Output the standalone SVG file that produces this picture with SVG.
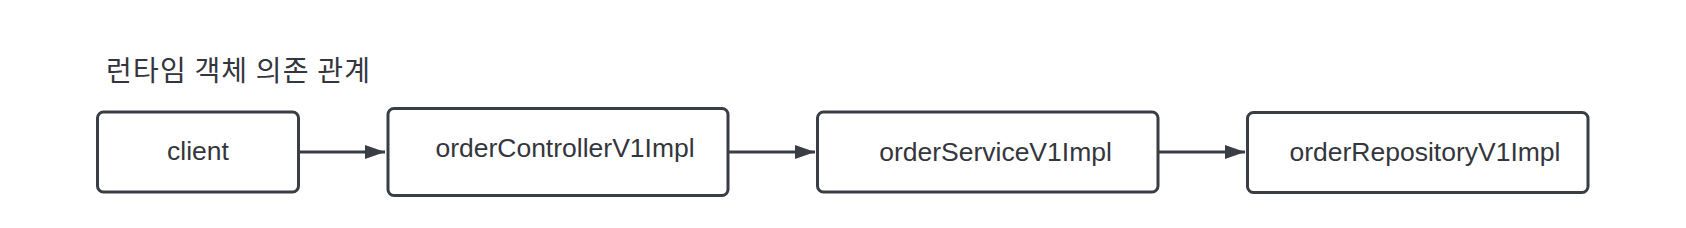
<svg xmlns="http://www.w3.org/2000/svg" width="1686" height="228" viewBox="0 0 1686 228">
<style>
.box{fill:#ffffff;stroke:#3a3d44;stroke-width:3}
.lbl{font-family:"Liberation Sans",Arial,sans-serif;font-size:26.5px;fill:#33363c}
.title{font-family:"Noto Sans CJK KR","Noto Sans",sans-serif;font-size:28px;fill:#33363c}
.edge{stroke:#3a3d44;stroke-width:3;fill:none}
</style>
<defs>
<marker id="arr" viewBox="0 0 20 14" refX="20" refY="7" markerWidth="20" markerHeight="14" markerUnits="userSpaceOnUse" orient="auto">
<path d="M0,0 L20,7 L0,14 Z" fill="#3a3d44"/>
</marker>
</defs>
<rect width="1686" height="228" fill="#ffffff"/>
<text class="title" x="106" y="81" textLength="264" lengthAdjust="spacing">런타임 객체 의존 관계</text>
<g id="client">
<rect class="box" x="97.5" y="112" width="201" height="80" rx="6"/>
<text class="lbl" x="198" y="160" text-anchor="middle">client</text>
</g>
<g id="orderControllerV1Impl">
<rect class="box" x="388" y="108.5" width="340" height="87" rx="6"/>
<text class="lbl" x="565" y="157" text-anchor="middle">orderControllerV1Impl</text>
</g>
<g id="orderServiceV1Impl">
<rect class="box" x="817.5" y="112" width="340.5" height="80" rx="6"/>
<text class="lbl" x="995.5" y="161" text-anchor="middle">orderServiceV1Impl</text>
</g>
<g id="orderRepositoryV1Impl">
<rect class="box" x="1247.5" y="112.5" width="340.5" height="80" rx="6"/>
<text class="lbl" x="1425" y="161" text-anchor="middle">orderRepositoryV1Impl</text>
</g>
<g id="connectors">
<line class="edge" x1="299" y1="152" x2="385" y2="152" marker-end="url(#arr)"/>
<line class="edge" x1="728" y1="152" x2="815" y2="152" marker-end="url(#arr)"/>
<line class="edge" x1="1158" y1="152" x2="1245" y2="152" marker-end="url(#arr)"/>
</g>
</svg>
